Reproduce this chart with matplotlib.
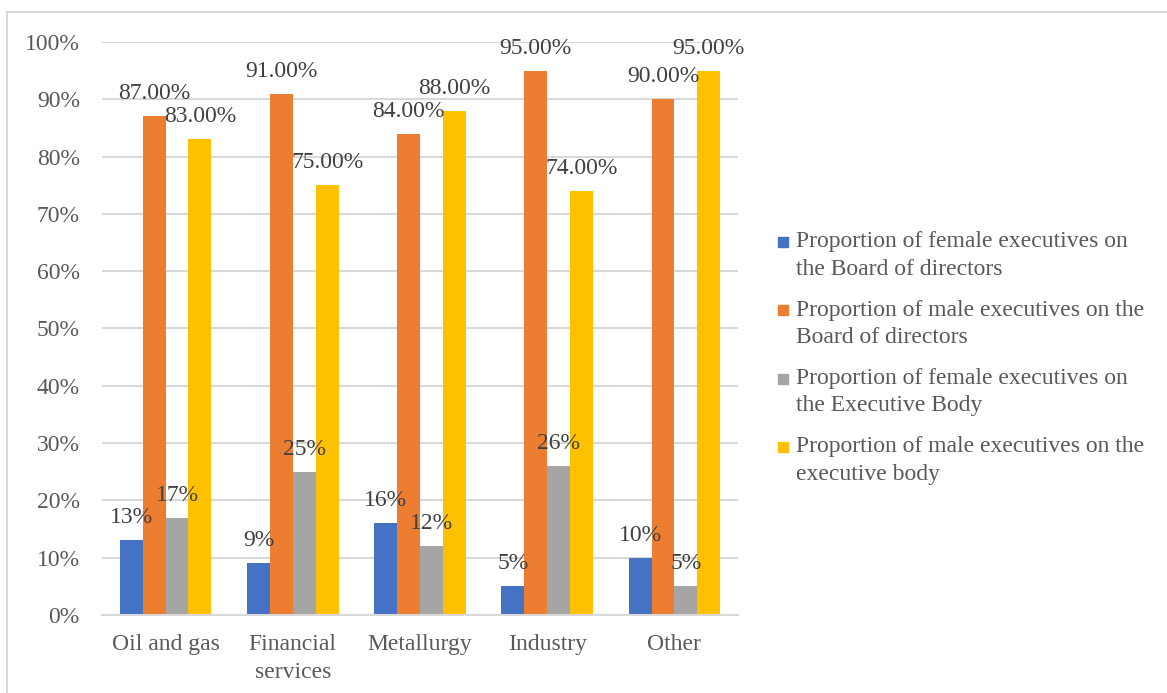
import matplotlib.pyplot as plt
import numpy as np
from matplotlib.patches import Rectangle

plt.rcParams["font.family"] = ["Liberation Serif", "DejaVu Serif"]

categories = ["Oil and gas", "Financial\nservices", "Metallurgy", "Industry", "Other"]
female_board = [13, 9, 16, 5, 10]
male_board = [87, 91, 84, 95, 90]
female_exec = [17, 25, 12, 26, 5]
male_exec = [83, 75, 88, 74, 95]

series = [
    ("Proportion of female executives on\nthe Board of directors", female_board, "#4472C4", "{:.0f}%"),
    ("Proportion of male executives on the\nBoard of directors", male_board, "#ED7D31", "{:.2f}%"),
    ("Proportion of female executives on\nthe Executive Body", female_exec, "#A5A5A5", "{:.0f}%"),
    ("Proportion of male executives on the\nexecutive body", male_exec, "#FFC000", "{:.2f}%"),
]

text_color = "#595959"
label_color = "#404040"
fs = 17
W, H = 1167, 693

fig = plt.figure(figsize=(W / 100, H / 100), dpi=100)
ax = fig.add_axes([0.0874, 0.1126, 0.545, 0.8268])

x = np.arange(len(categories))
width = 0.18
for i, (name, vals, color, fmt) in enumerate(series):
    pos = x + (i - 1.5) * width
    ax.bar(pos, vals, width, color=color, label=name, zorder=3)
    for px, v in zip(pos, vals):
        ax.text(px, v + 2.1, fmt.format(v), ha="center", va="bottom",
                fontsize=fs, color=label_color, zorder=4)

ax.set_xlim(-0.5, len(categories) - 0.5)
ax.set_ylim(0, 100)
ax.set_yticks(range(0, 101, 10))
ax.set_yticklabels([f"{t}%" for t in range(0, 101, 10)])
ax.set_xticks(x)
ax.set_xticklabels(categories, linespacing=1.4)
ax.tick_params(axis="both", length=0, labelsize=fs, labelcolor=text_color)
ax.tick_params(axis="y", pad=16)
ax.tick_params(axis="x", pad=14)
ax.grid(axis="y", color="#D9D9D9", linewidth=1.5, zorder=0)
for side in ["top", "right", "left"]:
    ax.spines[side].set_visible(False)
ax.spines["bottom"].set_color("#D9D9D9")
ax.spines["bottom"].set_linewidth(1.5)
ax.spines["bottom"].set_zorder(3)

# legend: square key lined up with the first line of each two-line label
for i, (name, vals, color, fmt) in enumerate(series):
    y_first = 242 + 68.3 * i
    fig.patches.append(Rectangle((778 / W, 1 - (y_first + 5) / H), 10 / W, 10 / H,
                                 transform=fig.transFigure, color=color))
    fig.text(796 / W, 1 - (y_first + 13.5) / H, name, ha="left", va="center",
             fontsize=fs, color=text_color, linespacing=1.4)

fig.patches.append(Rectangle((7 / W, -0.1), 1.2, 1 - 12 / H + 0.1,
                             transform=fig.transFigure, fill=False,
                             edgecolor="#D9D9D9", linewidth=1.5))

fig.savefig("out.png", dpi=100)
